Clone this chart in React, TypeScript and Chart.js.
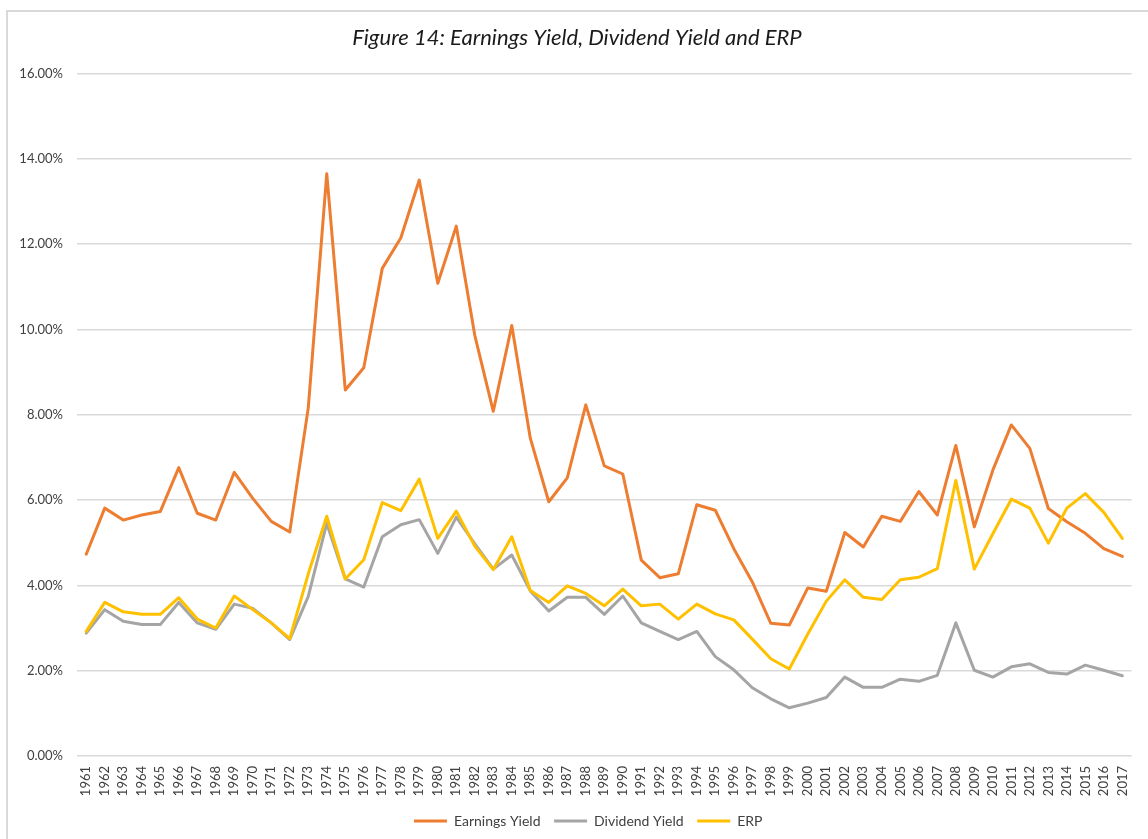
import React, { useEffect, useRef } from "react";
import { Chart, registerables } from "chart.js";

Chart.register(...registerables);

const years: string[] = [
  "1961","1962","1963","1964","1965","1966","1967","1968","1969","1970",
  "1971","1972","1973","1974","1975","1976","1977","1978","1979","1980",
  "1981","1982","1983","1984","1985","1986","1987","1988","1989","1990",
  "1991","1992","1993","1994","1995","1996","1997","1998","1999","2000",
  "2001","2002","2003","2004","2005","2006","2007","2008","2009","2010",
  "2011","2012","2013","2014","2015","2016","2017",
];

const earningsYield: number[] = [
  4.73, 5.81, 5.53, 5.65, 5.73, 6.76, 5.69, 5.53, 6.65, 6.04,
  5.50, 5.25, 8.16, 13.65, 8.58, 9.10, 11.43, 12.14, 13.50, 11.08,
  12.42, 9.86, 8.08, 10.09, 7.45, 5.96, 6.52, 8.23, 6.80, 6.61,
  4.59, 4.18, 4.27, 5.89, 5.76, 4.86, 4.08, 3.11, 3.07, 3.94,
  3.86, 5.24, 4.90, 5.62, 5.50, 6.20, 5.65, 7.28, 5.37, 6.70,
  7.76, 7.21, 5.80, 5.49, 5.22, 4.86, 4.68,
];

const dividendYield: number[] = [
  2.88, 3.43, 3.16, 3.08, 3.08, 3.60, 3.12, 2.97, 3.56, 3.46,
  3.12, 2.73, 3.74, 5.45, 4.15, 3.96, 5.14, 5.42, 5.54, 4.75,
  5.60, 4.97, 4.38, 4.71, 3.87, 3.40, 3.72, 3.72, 3.32, 3.75,
  3.12, 2.92, 2.73, 2.92, 2.33, 2.02, 1.60, 1.34, 1.13, 1.24,
  1.37, 1.85, 1.61, 1.61, 1.80, 1.75, 1.89, 3.12, 2.01, 1.85,
  2.09, 2.16, 1.96, 1.92, 2.13, 2.01, 1.88,
];

const erp: number[] = [
  2.92, 3.60, 3.38, 3.32, 3.32, 3.71, 3.21, 3.00, 3.75, 3.43,
  3.12, 2.75, 4.27, 5.62, 4.15, 4.60, 5.94, 5.75, 6.49, 5.10,
  5.74, 4.92, 4.37, 5.14, 3.88, 3.60, 3.99, 3.81, 3.52, 3.91,
  3.52, 3.56, 3.21, 3.56, 3.33, 3.19, 2.74, 2.28, 2.04, 2.86,
  3.63, 4.13, 3.72, 3.67, 4.13, 4.19, 4.39, 6.46, 4.38, 5.21,
  6.02, 5.81, 4.99, 5.81, 6.15, 5.71, 5.10,
];

const seriesNames: string[] = ["Earnings Yield", "Dividend Yield", "ERP"];
const seriesColors: string[] = ["#ED7D31", "#A5A5A5", "#FFC000"];
const titleText = "Figure 14: Earnings Yield, Dividend Yield and ERP";

const FONT = "Lato, 'Open Sans', sans-serif";
const TEXT = "#404040";
const GRID = "#d9d9d9";

const shiftPlugin = {
  id: "shiftBlocks",
  afterLayout(chart: any) {
    if (chart.legend) {
      chart.legend.left += 20;
      chart.legend.right += 20;
    }
    if (chart.titleBlock) {
      chart.titleBlock.left += 7;
      chart.titleBlock.right += 7;
    }
  },
};

export default function App() {
  const canvasRef = useRef<HTMLCanvasElement | null>(null);

  useEffect(() => {
    const canvas = canvasRef.current;
    if (!canvas) return;
    const dataArrays = [earningsYield, dividendYield, erp];
    const chart = new Chart(canvas, {
      type: "line",
      data: {
        labels: years,
        datasets: seriesNames.map((name, i) => ({
          label: name,
          data: dataArrays[i],
          borderColor: seriesColors[i],
          backgroundColor: seriesColors[i],
          borderWidth: 3,
          pointRadius: 0,
          pointHoverRadius: 0,
          tension: 0,
          borderJoinStyle: "round" as const,
          borderCapStyle: "round" as const,
          fill: false,
          order: 2 - i,
        })),
      },
      plugins: [shiftPlugin],
      options: {
        animation: false,
        responsive: false,
        maintainAspectRatio: false,
        events: [],
        layout: { padding: { left: 0, right: 8, top: 0, bottom: 1 } },
        plugins: {
          title: {
            display: true,
            text: titleText,
            color: "#1a1a1a",
            font: { family: FONT, size: 22, style: "italic", weight: "normal" },
            padding: { top: 25, bottom: 22 },
          },
          legend: {
            display: true,
            position: "bottom",
            labels: {
              color: TEXT,
              font: { family: FONT, size: 14 },
              boxWidth: 33,
              boxHeight: 3,
              padding: 10,
              generateLabels: (ch: any) =>
                ch.data.datasets.map((ds: any, i: number) => ({
                  text: ds.label + " ",
                  fillStyle: ds.borderColor,
                  strokeStyle: ds.borderColor,
                  lineWidth: 0,
                  fontColor: TEXT,
                  hidden: false,
                  datasetIndex: i,
                })),
            },
          },
          tooltip: { enabled: false },
        },
        scales: {
          x: {
            type: "category",
            offset: true,
            grid: { display: false, drawTicks: false },
            border: { display: false },
            ticks: {
              color: TEXT,
              font: { family: FONT, size: 13 },
              minRotation: 90,
              maxRotation: 90,
              autoSkip: false,
              padding: 10,
            },
            afterFit: (scale: any) => {
              scale.height = 48;
            },
          },
          y: {
            min: 0,
            max: 16,
            grid: { color: GRID, lineWidth: 1.5, drawTicks: false },
            border: { display: false },
            ticks: {
              stepSize: 2,
              color: TEXT,
              font: { family: FONT, size: 13 },
              padding: 14,
              callback: (v: any) => Number(v).toFixed(2) + "%",
            },
            afterFit: (scale: any) => {
              scale.width = 77;
            },
          },
        },
      },
    });
    return () => {
      chart.destroy();
    };
  }, []);

  return (
    <div
      style={{
        position: "fixed",
        left: 0,
        top: 0,
        width: 1148,
        height: 839,
        background: "#fff",
        overflow: "hidden",
      }}
    >
      <div
        style={{
          position: "absolute",
          left: 6,
          top: 10,
          width: 1200,
          height: 900,
          border: "2px solid #d9d9d9",
        }}
      />
      <canvas
        ref={canvasRef}
        width={1148}
        height={839}
        style={{ position: "absolute", left: 0, top: 0, width: 1148, height: 839 }}
      />
    </div>
  );
}
